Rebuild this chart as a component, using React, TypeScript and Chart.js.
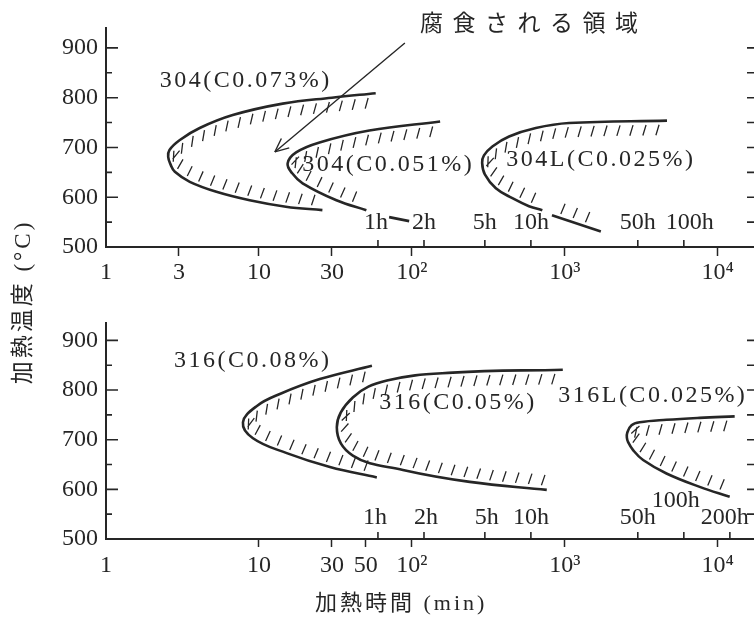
import React, { useEffect, useRef } from "react";
import { Chart, registerables } from "chart.js";
Chart.register(...registerables);

// ---------------- axis data ----------------
const xMin = 1;
const xMax = 17783; // about 10^4.25 (axis runs past the picture edge)
const topXTicks = [1, 3, 10, 30, 100, 1000, 10000];
const bottomXTicks = [1, 10, 30, 50, 100, 1000, 10000];
const xTickText: Record<number, string> = {
  1: "1", 3: "3", 10: "10", 30: "30", 50: "50", 100: "10²", 1000: "10³", 10000: "10⁴",
};
const yMajor = [500, 600, 700, 800, 900];
const yMinor = [550, 650, 750, 850];
const rightTicks = [550, 600, 650, 700, 750, 800, 850, 900];

const topHourLabels = ["1h", "2h", "5h", "10h", "50h", "100h"];
const topHourMinutes = [60, 120, 300, 600, 3000, 6000];
const bottomHourLabels = ["1h", "2h", "5h", "10h", "50h", "100h", "200h"];
const bottomHourMinutes = [60, 120, 300, 600, 3000, 6000, 12000];

// ---------------- curves: heating time (min) / temperature (°C) ----------------
// 304 (C0.073%)
const c304a_t = [58, 30, 14.3, 6.74, 4.1, 3.04, 2.6, 2.55, 2.65, 2.82, 3.53, 5.27, 8.7, 15, 26];
const c304a_T = [809, 800, 788, 765, 739, 715, 695, 681, 665, 651, 631, 611, 594, 581, 574];
// 304 (C0.051%)
const c304b_t = [153, 52.7, 24.9, 17.5, 15.4, 16.5, 19.3, 32.1, 50.4];
const c304b_T = [752, 734, 710, 690, 668, 648, 628, 594, 574];
const c304b_tail_t = [71, 96];
const c304b_tail_T = [560, 552];
// 304L (C0.025%)
const c304L_t = [4656, 1064, 646, 432, 336, 296, 288, 300, 354, 454, 583, 713];
const c304L_T = [754, 749, 739, 722, 702, 684, 669, 646, 618, 598, 582, 574];
const c304L_tail_t = [824, 1720];
const c304L_tail_T = [564, 531];
// 316 (C0.08%)
const c316a_t = [54.8, 25, 13.7, 9.7, 7.86, 9.14, 15.2, 29.1, 59];
const c316a_T = [849, 822, 792, 768, 735, 703, 673, 645, 624];
// 316 (C0.05%)
const c316b_t = [970, 185, 68.7, 41.1, 32.3, 41.1, 87.4, 239, 762];
const c316b_T = [841, 835, 819, 785, 725, 668, 639, 615, 599];
// 316L (C0.025%)
const c316L_t = [12900, 7620, 4620, 3090, 2730, 2560, 2545, 2594, 2795, 3250, 4620, 7620, 11970];
const c316L_T = [747, 744, 740, 735, 729, 714, 704, 695, 679, 659, 632, 605, 585];

// leader arrow for the title
const arrow_t = [90, 12.7];
const arrow_T = [910, 691];

// curve labels
const topLabelTexts = ["304(C0.073%)", "304(C0.051%)", "304L(C0.025%)"];
const topLabelTimes = [8.2, 70, 1720];
const topLabelTemps = [834, 665, 675];
const bottomLabelTexts = ["316(C0.08%)", "316(C0.05%)", "316L(C0.025%)"];
const bottomLabelTimes = [9.1, 200, 3760];
const bottomLabelTemps = [859, 775, 789];

// ---------------- styling ----------------
const INK = "#262626";
const SERIF = "'Liberation Serif', 'DejaVu Serif', serif";
const CJK = "'Liberation Serif', 'Noto Sans CJK JP', sans-serif";
const CANVAS_W = 770;
const AREA_LEFT = 106;
const AREA_RIGHT = 756;

function curve(ts: number[], Ts: number[], extra: any = {}) {
  return {
    data: ts.map((t, i) => ({ x: t, y: Ts[i] })),
    borderColor: INK,
    backgroundColor: INK,
    borderWidth: 2.6,
    pointRadius: 0,
    pointHoverRadius: 0,
    tension: 0.4,
    fill: false,
    ...extra,
  };
}

function segment(ts: number[], Ts: number[], extra: any = {}) {
  return curve(ts, Ts, { tension: 0, ...extra });
}

function polyFromMeta(meta: any) {
  const pts = meta.data as any[];
  const out: { x: number; y: number }[] = [];
  for (let i = 0; i < pts.length - 1; i++) {
    const a = pts[i];
    const b = pts[i + 1];
    const c1x = a.cp2x ?? a.x, c1y = a.cp2y ?? a.y;
    const c2x = b.cp1x ?? b.x, c2y = b.cp1y ?? b.y;
    for (let s = 0; s < 24; s++) {
      const u = s / 24, v = 1 - u;
      out.push({
        x: v * v * v * a.x + 3 * v * v * u * c1x + 3 * v * u * u * c2x + u * u * u * b.x,
        y: v * v * v * a.y + 3 * v * v * u * c1y + 3 * v * u * u * c2y + u * u * u * b.y,
      });
    }
  }
  const l = pts[pts.length - 1];
  out.push({ x: l.x, y: l.y });
  return out;
}

function drawHatches(ctx: CanvasRenderingContext2D, poly: { x: number; y: number }[], mode: string) {
  let total = 0;
  for (let i = 0; i < poly.length - 1; i++) total += Math.hypot(poly[i + 1].x - poly[i].x, poly[i + 1].y - poly[i].y);
  const first = poly[0], last = poly[poly.length - 1];
  const mx = (first.x + last.x) / 2, my = (first.y + last.y) / 2;
  const fx = 0.42, fy = -0.91;
  let acc = 0;
  let next = 8;
  ctx.beginPath();
  for (let i = 0; i < poly.length - 1; i++) {
    const a = poly[i], b = poly[i + 1];
    const L = Math.hypot(b.x - a.x, b.y - a.y);
    if (L === 0) continue;
    const tx = (b.x - a.x) / L, ty = (b.y - a.y) / L;
    while (acc + L >= next && next < total - 5) {
      const u = (next - acc) / L;
      const px = a.x + (b.x - a.x) * u, py = a.y + (b.y - a.y) * u;
      let nx = -ty, ny = tx;
      if (mode === "up") {
        if (ny > 0) { nx = -nx; ny = -ny; }
      } else if (nx * (mx - px) + ny * (my - py) < 0) {
        nx = -nx; ny = -ny;
      }
      const sgn = nx * fx + ny * fy >= 0 ? 1 : -1;
      let hx = sgn * fx + 0.45 * nx, hy = sgn * fy + 0.45 * ny;
      const hl = Math.hypot(hx, hy);
      hx /= hl; hy /= hl;
      const sx = px + nx * 4, sy = py + ny * 4;
      ctx.moveTo(sx, sy);
      ctx.lineTo(sx + hx * 11, sy + hy * 11);
      next += 13;
    }
    acc += L;
  }
  ctx.stroke();
}

type PanelCfg = {
  canvasHeight: number;
  padTop: number;
  xAxisHeight: number;
  yMax: number;
  xTicks: number[];
  tickLen: number;
  tickPad: number;
  hourLabels: string[];
  hourMinutes: number[];
  hourDx: number[];
  hourDy: number[];
  hourLift: number;
  labelTexts: string[];
  labelTimes: number[];
  labelTemps: number[];
  datasets: any[];
};

function makeDecor(cfg: PanelCfg) {
  return {
    id: "decor",
    afterDraw(chart: any) {
      const ctx: CanvasRenderingContext2D = chart.ctx;
      const xs = chart.scales.x;
      const ys = chart.scales.y;
      const area = chart.chartArea;
      ctx.save();
      ctx.strokeStyle = INK;
      ctx.fillStyle = INK;
      ctx.lineCap = "butt";

      // hatching on the inside of each curve
      ctx.lineWidth = 1.3;
      chart.data.datasets.forEach((ds: any, i: number) => {
        if (!ds.hatch) return;
        const poly = polyFromMeta(chart.getDatasetMeta(i));
        drawHatches(ctx, poly, ds.hatch);
      });

      // arrow heads
      ctx.lineWidth = 1.4;
      chart.data.datasets.forEach((ds: any, i: number) => {
        if (!ds.arrow) return;
        const pts = chart.getDatasetMeta(i).data;
        const a = pts[0], b = pts[pts.length - 1];
        const ang = Math.atan2(b.y - a.y, b.x - a.x);
        ctx.beginPath();
        for (const d of [0.42, -0.42]) {
          ctx.moveTo(b.x, b.y);
          ctx.lineTo(b.x - 15 * Math.cos(ang + d), b.y - 15 * Math.sin(ang + d));
        }
        ctx.stroke();
      });

      // inward ticks on the left axis
      ctx.lineWidth = 1.6;
      ctx.beginPath();
      yMajor.forEach((v) => {
        if (v <= 500) return;
        const y = ys.getPixelForValue(v);
        ctx.moveTo(area.left, y);
        ctx.lineTo(area.left + 12, y);
      });
      yMinor.forEach((v) => {
        const y = ys.getPixelForValue(v);
        ctx.moveTo(area.left, y);
        ctx.lineTo(area.left + 6, y);
      });
      // right frame ticks
      rightTicks.forEach((v) => {
        const y = ys.getPixelForValue(v);
        ctx.moveTo(area.right - 9, y);
        ctx.lineTo(area.right, y);
      });
      // hour ticks (upward)
      cfg.hourMinutes.forEach((m) => {
        const x = xs.getPixelForValue(m);
        ctx.moveTo(x, area.bottom);
        ctx.lineTo(x, area.bottom - 7);
      });
      ctx.stroke();
      ctx.lineWidth = 2;
      ctx.beginPath();
      ctx.moveTo(area.right, area.top);
      ctx.lineTo(area.right, area.bottom);
      ctx.stroke();

      // hour labels
      ctx.font = `24px ${SERIF}`;
      ctx.textAlign = "center";
      ctx.textBaseline = "middle";
      cfg.hourLabels.forEach((lab, i) => {
        const x = xs.getPixelForValue(cfg.hourMinutes[i]) + cfg.hourDx[i];
        ctx.fillText(lab, x, area.bottom - cfg.hourLift + cfg.hourDy[i]);
      });

      // curve labels
      (ctx as any).letterSpacing = "2.5px";
      cfg.labelTexts.forEach((lab, i) => {
        ctx.fillText(lab, xs.getPixelForValue(cfg.labelTimes[i]), ys.getPixelForValue(cfg.labelTemps[i]));
      });
      (ctx as any).letterSpacing = "0px";
      ctx.restore();
    },
  };
}

function makeConfig(cfg: PanelCfg): any {
  return {
    type: "line",
    data: { datasets: cfg.datasets },
    options: {
      responsive: false,
      maintainAspectRatio: false,
      animation: false,
      devicePixelRatio: 1,
      events: [],
      layout: {
        autoPadding: false,
        padding: { left: 0, right: CANVAS_W - AREA_RIGHT, top: cfg.padTop, bottom: 0 },
      },
      plugins: { legend: { display: false }, tooltip: { enabled: false } },
      scales: {
        x: {
          type: "logarithmic",
          min: xMin,
          max: xMax,
          border: { display: true, color: INK, width: 2 },
          grid: {
            display: true,
            drawOnChartArea: false,
            drawTicks: true,
            tickLength: cfg.tickLen,
            tickWidth: 1.5,
            tickColor: (c: any) => (c.tick && c.tick.value === 1 ? "rgba(0,0,0,0)" : INK),
          },
          ticks: {
            autoSkip: false,
            maxRotation: 0,
            minRotation: 0,
            padding: cfg.tickPad,
            color: INK,
            font: { family: SERIF, size: 24 },
            callback: (v: any) => xTickText[Number(v)] ?? "",
          },
          afterBuildTicks: (a: any) => {
            a.ticks = cfg.xTicks.map((v) => ({ value: v }));
          },
          afterFit: (a: any) => {
            a.height = cfg.xAxisHeight;
          },
        },
        y: {
          type: "linear",
          min: 500,
          max: cfg.yMax,
          border: { display: true, color: INK, width: 2 },
          grid: { display: true, drawOnChartArea: false, drawTicks: false },
          ticks: {
            padding: 8,
            color: INK,
            font: { family: SERIF, size: 24 },
            callback: (v: any) => String(v),
          },
          afterBuildTicks: (a: any) => {
            a.ticks = yMajor.map((v) => ({ value: v }));
          },
          afterFit: (a: any) => {
            a.width = AREA_LEFT;
          },
        },
      },
    },
    plugins: [makeDecor(cfg)],
  };
}

const topCfg: PanelCfg = {
  canvasHeight: 300,
  padTop: 28,
  xAxisHeight: 53,
  yMax: 940,
  xTicks: topXTicks,
  tickLen: 9,
  tickPad: 2,
  hourLabels: topHourLabels,
  hourMinutes: topHourMinutes,
  hourDx: [-2, 0, 0, 0, 0, 6],
  hourDy: [0, 0, 0, 0, 0, 0],
  hourLift: 24,
  labelTexts: topLabelTexts,
  labelTimes: topLabelTimes,
  labelTemps: topLabelTemps,
  datasets: [
    curve(c304a_t, c304a_T, { hatch: "c" }),
    curve(c304b_t, c304b_T, { hatch: "c" }),
    segment(c304b_tail_t, c304b_tail_T),
    curve(c304L_t, c304L_T, { hatch: "c" }),
    segment(c304L_tail_t, c304L_tail_T, { hatch: "up" }),
    segment(arrow_t, arrow_T, { borderWidth: 1.4, arrow: true }),
  ],
};

const bottomCfg: PanelCfg = {
  canvasHeight: 319,
  padTop: 23,
  xAxisHeight: 80,
  yMax: 935,
  xTicks: bottomXTicks,
  tickLen: 8,
  tickPad: 4,
  hourLabels: bottomHourLabels,
  hourMinutes: bottomHourMinutes,
  hourDx: [-3, 2, 2, 0, 0, -8, -5],
  hourDy: [0, 0, 0, 0, 0, -17, 0],
  hourLift: 21,
  labelTexts: bottomLabelTexts,
  labelTimes: bottomLabelTimes,
  labelTemps: bottomLabelTemps,
  datasets: [
    curve(c316a_t, c316a_T, { hatch: "c" }),
    curve(c316b_t, c316b_T, { hatch: "c" }),
    curve(c316L_t, c316L_T, { hatch: "c" }),
  ],
};

export default function App() {
  const topRef = useRef<HTMLCanvasElement | null>(null);
  const botRef = useRef<HTMLCanvasElement | null>(null);

  useEffect(() => {
    const charts: Chart[] = [];
    if (topRef.current) charts.push(new Chart(topRef.current, makeConfig(topCfg)));
    if (botRef.current) charts.push(new Chart(botRef.current, makeConfig(bottomCfg)));
    return () => charts.forEach((c) => c.destroy());
  }, []);

  return (
    <div
      style={{
        position: "fixed",
        left: 0,
        top: 0,
        width: 754,
        height: 619,
        overflow: "hidden",
        background: "#fff",
      }}
    >
      <canvas
        ref={topRef}
        width={CANVAS_W}
        height={topCfg.canvasHeight}
        style={{ position: "absolute", left: 0, top: 0, width: CANVAS_W, height: topCfg.canvasHeight }}
      />
      <canvas
        ref={botRef}
        width={CANVAS_W}
        height={bottomCfg.canvasHeight}
        style={{ position: "absolute", left: 0, top: 300, width: CANVAS_W, height: bottomCfg.canvasHeight }}
      />
      <div
        style={{
          position: "absolute",
          left: 420,
          top: 10,
          height: 28,
          lineHeight: "28px",
          whiteSpace: "nowrap",
          fontFamily: CJK,
          fontSize: 23,
          letterSpacing: "9.5px",
          color: INK,
        }}
      >
        腐食される領域
      </div>
      <div
        style={{
          position: "absolute",
          left: 315,
          top: 589,
          height: 28,
          lineHeight: "28px",
          whiteSpace: "nowrap",
          fontFamily: CJK,
          fontSize: 22,
          letterSpacing: "3px",
          color: INK,
        }}
      >
        加熱時間 (min)
      </div>
      <div
        style={{
          position: "absolute",
          left: 23 - 90,
          top: 302 - 14,
          width: 180,
          height: 28,
          lineHeight: "28px",
          textAlign: "center",
          whiteSpace: "nowrap",
          fontFamily: CJK,
          fontSize: 23,
          letterSpacing: "3px",
          color: INK,
          transform: "rotate(-90deg)",
        }}
      >
        加熱温度 (°C)
      </div>
    </div>
  );
}
